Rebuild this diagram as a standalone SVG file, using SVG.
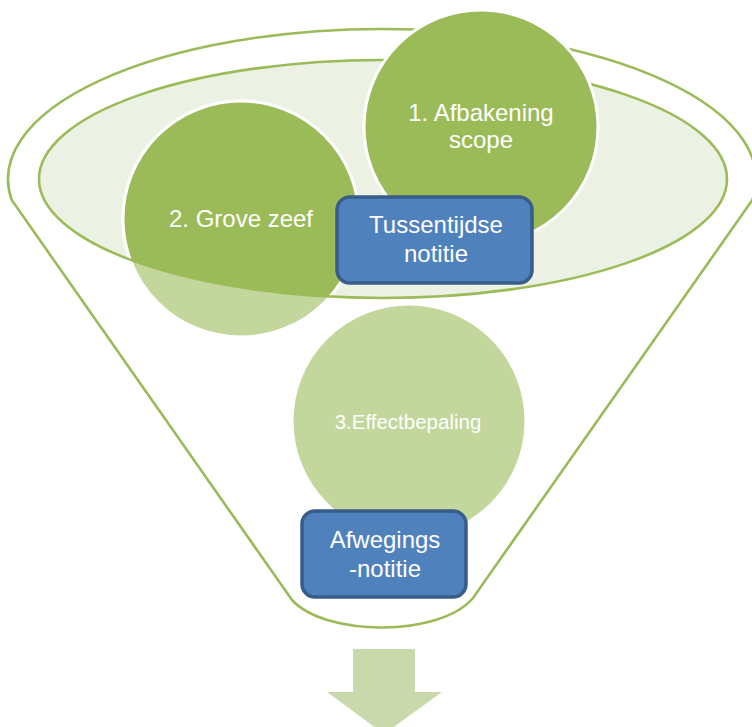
<svg xmlns="http://www.w3.org/2000/svg" width="752" height="727" viewBox="0 0 752 727">
<style>
.txt{font-family:"Liberation Sans",Arial,sans-serif;fill:#FFFFFF;text-anchor:middle}
.big{font-size:24px}
.line{fill:none;stroke:#9BBB59;stroke-width:2.6}
.dark{fill:#9BBB59;stroke:#FFFFFF;stroke-width:3}
.light{fill:#C3D69B;stroke:#FFFFFF;stroke-width:3}
.box{fill:#4F81BD;stroke:#385D8A;stroke-width:3.5}
</style>
<defs>
<clipPath id="inEll"><ellipse cx="383" cy="179" rx="344" ry="119"/></clipPath>
</defs>
<rect width="752" height="727" fill="#FFFFFF"/>
<g id="funnel">
<path class="line" d="M 11.7,200 A 374 150 0 1 1 752.3,200 L 473,598 C 440,637 326,637 292,600 Z"/>
<ellipse cx="383" cy="179" rx="344" ry="119" fill="#EBF1E3" stroke="none"/>
</g>
<g id="step3">
<circle class="light" cx="409" cy="421" r="117" stroke-width="2"/>
<text class="txt" x="408" y="429" font-size="20.5" fill="#F2F6EA">3.Effectbepaling</text>
</g>
<g id="step2">
<circle class="light" cx="241" cy="219" r="118"/>
<circle cx="241" cy="219" r="118" fill="#9BBB59" stroke="#FFFFFF" stroke-width="3" clip-path="url(#inEll)"/>
<text class="txt big" x="241" y="227">2. Grove zeef</text>
</g>
<g id="rim">
<ellipse class="line" cx="383" cy="179" rx="344" ry="119"/>
</g>
<g id="step1">
<circle class="dark" cx="481" cy="127" r="117"/>
<text class="txt big" x="481" y="121">1. Afbakening</text>
<text class="txt big" x="481" y="148">scope</text>
</g>
<g id="tussentijdse">
<rect class="box" x="337" y="197" width="195" height="86" rx="13"/>
<text class="txt big" x="436" y="233">Tussentijdse</text>
<text class="txt big" x="436" y="262">notitie</text>
</g>
<g id="afwegings">
<rect class="box" x="302" y="511" width="164" height="86" rx="13"/>
<text class="txt big" x="385" y="548">Afwegings</text>
<text class="txt big" x="385" y="577">-notitie</text>
</g>
<g id="connectors">
<polygon points="353,649 415,649 415,692 442,692 384,734 327,692 353,692" fill="#CAD9AB"/>
</g>
</svg>
